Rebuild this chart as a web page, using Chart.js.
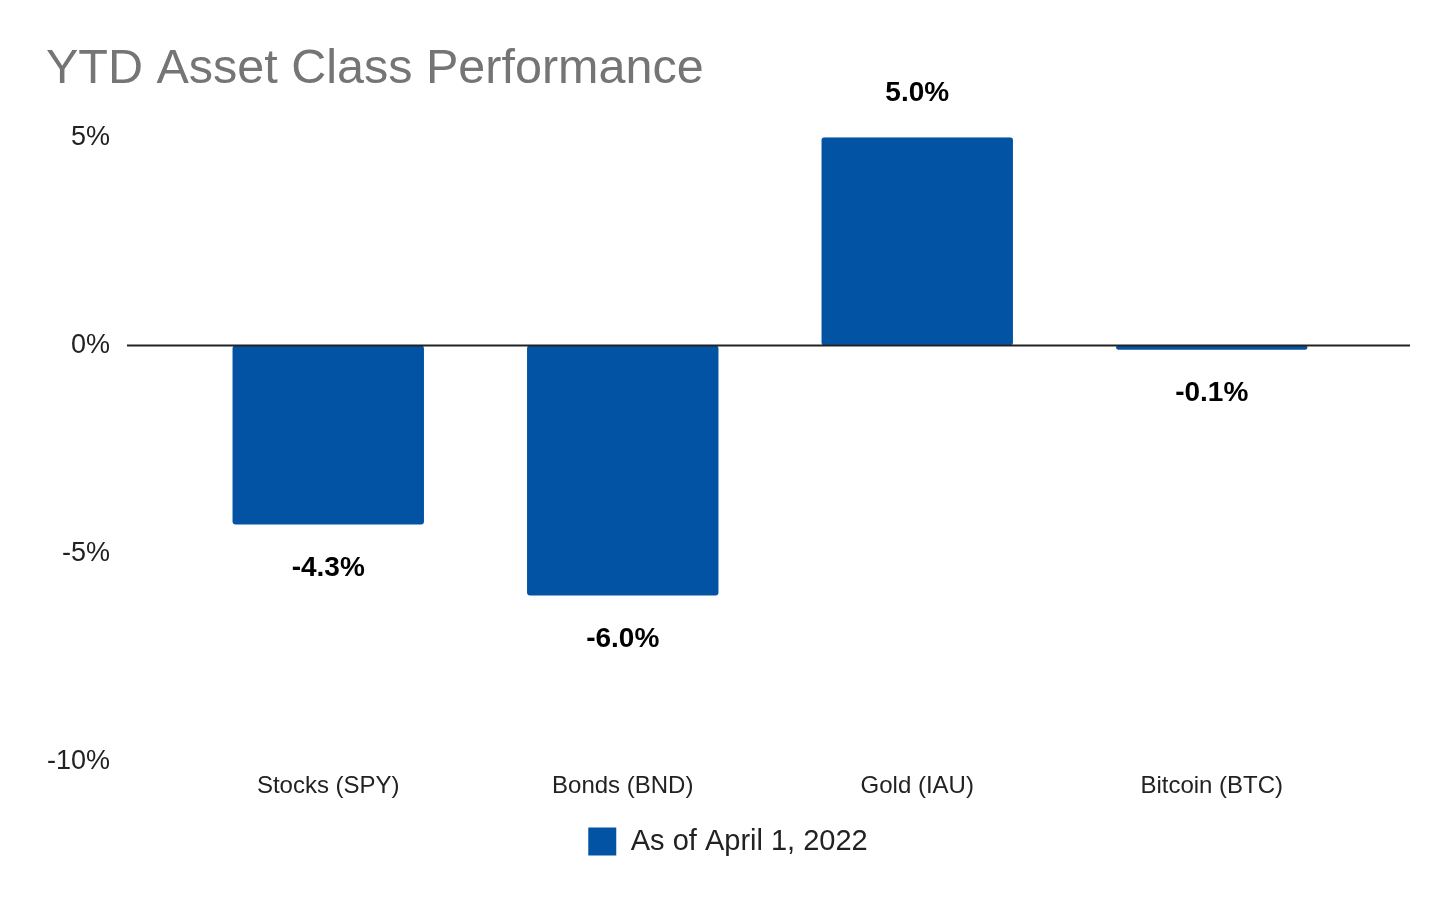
<!DOCTYPE html>
<html>
<head>
<meta charset="utf-8">
<script src="https://cdn.jsdelivr.net/npm/chart.js@4.4.0/dist/chart.umd.min.js"></script>
<style>
  html, body { margin: 0; padding: 0; background: #fff; }
  #wrap { width: 1456px; height: 900px; }
</style>
</head>
<body>
<div id="wrap"><canvas id="myChart" width="1456" height="900"></canvas></div>
<script>
var categories = ["Stocks (SPY)", "Bonds (BND)", "Gold (IAU)", "Bitcoin (BTC)"];
var ytdValues = [-4.3, -6.0, 5.0, -0.1];
var seriesName = "As of April 1, 2022";
var yTicks = [5, 0, -5, -10];

var barColor = '#0353a4';
var font = "'Liberation Sans', Arial, sans-serif";

// zero line across the whole width, like the original
var zeroLine = {
  id: 'zeroLine',
  afterDatasetsDraw: function(chart) {
    var ctx = chart.ctx, a = chart.chartArea;
    var y = chart.scales.y.getPixelForValue(0);
    ctx.save();
    ctx.strokeStyle = '#222222';
    ctx.lineWidth = 2;
    ctx.beginPath();
    ctx.moveTo(a.left - 54, y);
    ctx.lineTo(a.right + 51, y);
    ctx.stroke();
    ctx.restore();
  }
};

// value labels above / below bars
var valueLabels = {
  id: 'valueLabels',
  afterDatasetsDraw: function(chart) {
    var ctx = chart.ctx;
    var meta = chart.getDatasetMeta(0);
    ctx.save();
    ctx.font = "bold 28px " + font;
    ctx.fillStyle = '#000';
    ctx.textAlign = 'center';
    ctx.textBaseline = 'middle';
    meta.data.forEach(function(bar, i) {
      var v = ytdValues[i];
      var y = v >= 0 ? bar.y - 44 : bar.y + 44;
      ctx.fillText(v.toFixed(1) + '%', bar.x, y);
    });
    ctx.restore();
  }
};

var charts = document.querySelector("#myChart").getContext('2d');
new Chart(charts, {
  type: 'bar',
  data: {
    labels: categories,
    datasets: [{
      label: seriesName,
      data: ytdValues,
      backgroundColor: barColor,
      borderColor: barColor,
      borderWidth: 0,
      borderRadius: 3,
      borderSkipped: false,
      barPercentage: 0.65,
      categoryPercentage: 1.0
    }]
  },
  options: {
    responsive: false,
    animation: false,
    layout: { padding: { left: 46, right: 46, top: 0, bottom: 34 } },
    plugins: {
      title: {
        display: true,
        text: "YTD Asset Class Performance",
        align: 'start',
        color: '#757575',
        font: { family: font, size: 48.5, weight: 'normal' },
        padding: { top: 41, bottom: 38 }
      },
      legend: {
        display: true,
        position: 'bottom',
        labels: {
          boxWidth: 28,
          boxHeight: 28,
          color: '#222',
          padding: 10,
          font: { family: font, size: 29 }
        }
      },
      tooltip: { enabled: false }
    },
    scales: {
      x: {
        grid: { display: false },
        border: { display: false },
        ticks: { color: '#222', padding: 2, font: { family: font, size: 24 } },
        afterFit: function(s) { s.height = 55; }
      },
      y: {
        min: -10,
        max: 5,
        grid: { display: false },
        border: { display: false },
        afterBuildTicks: function(s) { s.ticks = yTicks.map(function(v) { return { value: v }; }); },
        ticks: {
          color: '#222',
          padding: 63,
          font: { family: font, size: 27 },
          callback: function(v) { return v + '%'; }
        },
        afterFit: function(s) { s.width = 135; }
      },
      y2: {
        position: 'right',
        grid: { display: false },
        border: { display: false },
        ticks: { display: false },
        afterFit: function(s) { s.width = 51; }
      }
    }
  },
  plugins: [zeroLine, valueLabels]
});
</script>
</body>
</html>
